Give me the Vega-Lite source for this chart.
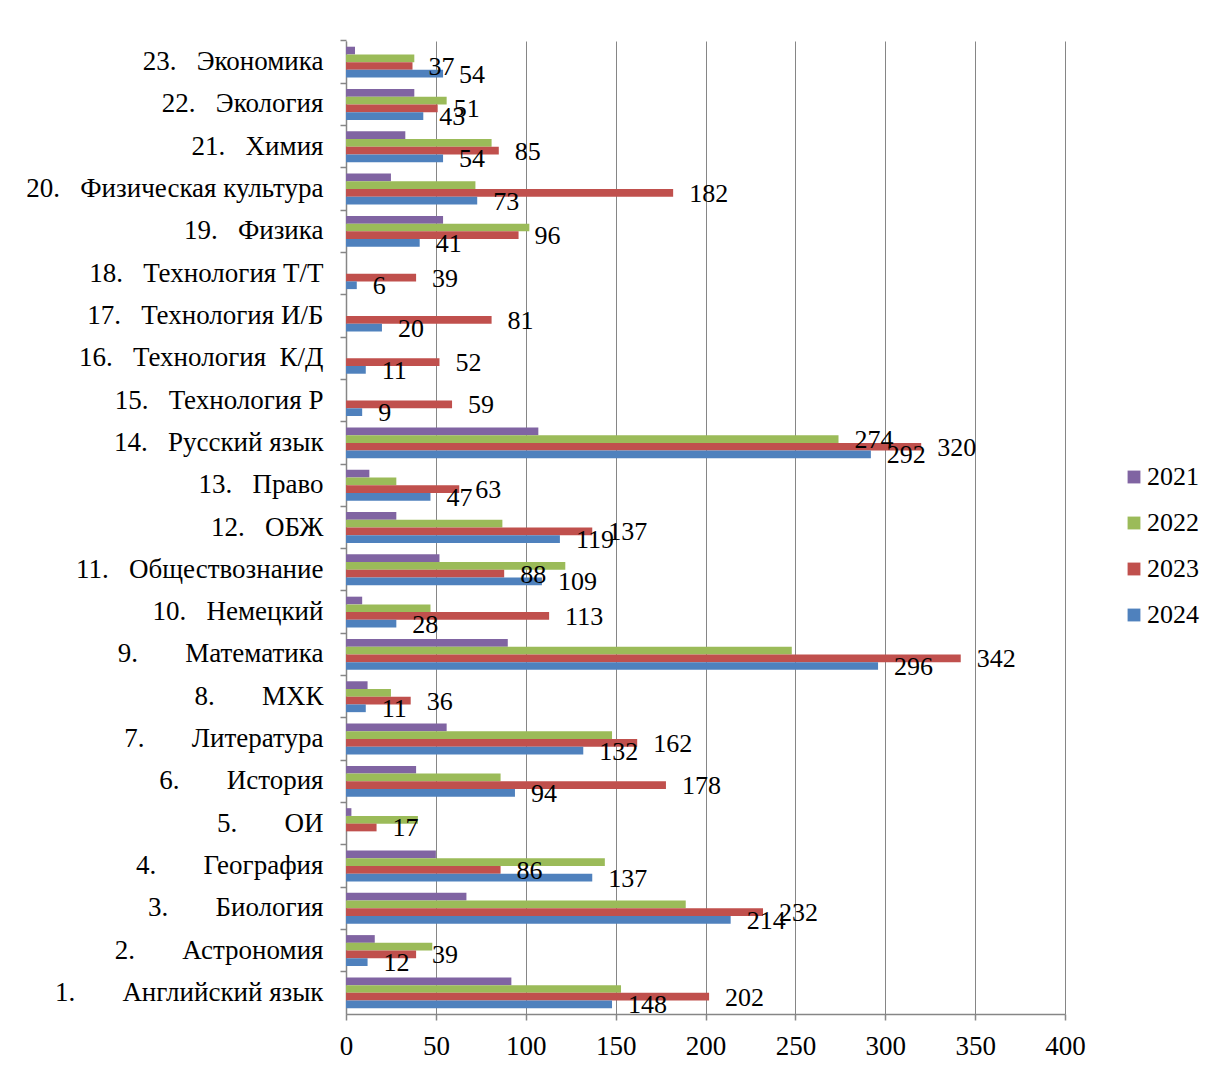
{
  "$schema": "https://vega.github.io/schema/vega-lite/v6.json",
  "width": 719,
  "height": 973,
  "autosize": {"type": "none"},
  "padding": {"left": 346, "top": 41, "right": 148, "bottom": 56},
  "background": "white",
  "config": {"font": "Liberation Serif", "view": {"stroke": null}},
  "data": {"values": [
    {"subject": "23.\u00a0\u00a0\u00a0Экономика", "year": "2021", "value": 5},
    {"subject": "23.\u00a0\u00a0\u00a0Экономика", "year": "2022", "value": 38},
    {"subject": "23.\u00a0\u00a0\u00a0Экономика", "year": "2023", "value": 37},
    {"subject": "23.\u00a0\u00a0\u00a0Экономика", "year": "2024", "value": 54},
    {"subject": "22.\u00a0\u00a0\u00a0Экология", "year": "2021", "value": 38},
    {"subject": "22.\u00a0\u00a0\u00a0Экология", "year": "2022", "value": 56},
    {"subject": "22.\u00a0\u00a0\u00a0Экология", "year": "2023", "value": 51},
    {"subject": "22.\u00a0\u00a0\u00a0Экология", "year": "2024", "value": 43},
    {"subject": "21.\u00a0\u00a0\u00a0Химия", "year": "2021", "value": 33},
    {"subject": "21.\u00a0\u00a0\u00a0Химия", "year": "2022", "value": 81},
    {"subject": "21.\u00a0\u00a0\u00a0Химия", "year": "2023", "value": 85},
    {"subject": "21.\u00a0\u00a0\u00a0Химия", "year": "2024", "value": 54},
    {"subject": "20.\u00a0\u00a0\u00a0Физическая культура", "year": "2021", "value": 25},
    {"subject": "20.\u00a0\u00a0\u00a0Физическая культура", "year": "2022", "value": 72},
    {"subject": "20.\u00a0\u00a0\u00a0Физическая культура", "year": "2023", "value": 182},
    {"subject": "20.\u00a0\u00a0\u00a0Физическая культура", "year": "2024", "value": 73},
    {"subject": "19.\u00a0\u00a0\u00a0Физика", "year": "2021", "value": 54},
    {"subject": "19.\u00a0\u00a0\u00a0Физика", "year": "2022", "value": 102},
    {"subject": "19.\u00a0\u00a0\u00a0Физика", "year": "2023", "value": 96},
    {"subject": "19.\u00a0\u00a0\u00a0Физика", "year": "2024", "value": 41},
    {"subject": "18.\u00a0\u00a0\u00a0Технология Т/Т", "year": "2023", "value": 39},
    {"subject": "18.\u00a0\u00a0\u00a0Технология Т/Т", "year": "2024", "value": 6},
    {"subject": "17.\u00a0\u00a0\u00a0Технология И/Б", "year": "2023", "value": 81},
    {"subject": "17.\u00a0\u00a0\u00a0Технология И/Б", "year": "2024", "value": 20},
    {"subject": "16.\u00a0\u00a0\u00a0Технология\u00a0\u00a0К/Д", "year": "2023", "value": 52},
    {"subject": "16.\u00a0\u00a0\u00a0Технология\u00a0\u00a0К/Д", "year": "2024", "value": 11},
    {"subject": "15.\u00a0\u00a0\u00a0Технология Р", "year": "2023", "value": 59},
    {"subject": "15.\u00a0\u00a0\u00a0Технология Р", "year": "2024", "value": 9},
    {"subject": "14.\u00a0\u00a0\u00a0Русский язык", "year": "2021", "value": 107},
    {"subject": "14.\u00a0\u00a0\u00a0Русский язык", "year": "2022", "value": 274},
    {"subject": "14.\u00a0\u00a0\u00a0Русский язык", "year": "2023", "value": 320},
    {"subject": "14.\u00a0\u00a0\u00a0Русский язык", "year": "2024", "value": 292},
    {"subject": "13.\u00a0\u00a0\u00a0Право", "year": "2021", "value": 13},
    {"subject": "13.\u00a0\u00a0\u00a0Право", "year": "2022", "value": 28},
    {"subject": "13.\u00a0\u00a0\u00a0Право", "year": "2023", "value": 63},
    {"subject": "13.\u00a0\u00a0\u00a0Право", "year": "2024", "value": 47},
    {"subject": "12.\u00a0\u00a0\u00a0ОБЖ", "year": "2021", "value": 28},
    {"subject": "12.\u00a0\u00a0\u00a0ОБЖ", "year": "2022", "value": 87},
    {"subject": "12.\u00a0\u00a0\u00a0ОБЖ", "year": "2023", "value": 137},
    {"subject": "12.\u00a0\u00a0\u00a0ОБЖ", "year": "2024", "value": 119},
    {"subject": "11.\u00a0\u00a0\u00a0Обществознание", "year": "2021", "value": 52},
    {"subject": "11.\u00a0\u00a0\u00a0Обществознание", "year": "2022", "value": 122},
    {"subject": "11.\u00a0\u00a0\u00a0Обществознание", "year": "2023", "value": 88},
    {"subject": "11.\u00a0\u00a0\u00a0Обществознание", "year": "2024", "value": 109},
    {"subject": "10.\u00a0\u00a0\u00a0Немецкий", "year": "2021", "value": 9},
    {"subject": "10.\u00a0\u00a0\u00a0Немецкий", "year": "2022", "value": 47},
    {"subject": "10.\u00a0\u00a0\u00a0Немецкий", "year": "2023", "value": 113},
    {"subject": "10.\u00a0\u00a0\u00a0Немецкий", "year": "2024", "value": 28},
    {"subject": "9.\u00a0\u00a0\u00a0\u00a0\u00a0\u00a0\u00a0Математика", "year": "2021", "value": 90},
    {"subject": "9.\u00a0\u00a0\u00a0\u00a0\u00a0\u00a0\u00a0Математика", "year": "2022", "value": 248},
    {"subject": "9.\u00a0\u00a0\u00a0\u00a0\u00a0\u00a0\u00a0Математика", "year": "2023", "value": 342},
    {"subject": "9.\u00a0\u00a0\u00a0\u00a0\u00a0\u00a0\u00a0Математика", "year": "2024", "value": 296},
    {"subject": "8.\u00a0\u00a0\u00a0\u00a0\u00a0\u00a0\u00a0МХК", "year": "2021", "value": 12},
    {"subject": "8.\u00a0\u00a0\u00a0\u00a0\u00a0\u00a0\u00a0МХК", "year": "2022", "value": 25},
    {"subject": "8.\u00a0\u00a0\u00a0\u00a0\u00a0\u00a0\u00a0МХК", "year": "2023", "value": 36},
    {"subject": "8.\u00a0\u00a0\u00a0\u00a0\u00a0\u00a0\u00a0МХК", "year": "2024", "value": 11},
    {"subject": "7.\u00a0\u00a0\u00a0\u00a0\u00a0\u00a0\u00a0Литература", "year": "2021", "value": 56},
    {"subject": "7.\u00a0\u00a0\u00a0\u00a0\u00a0\u00a0\u00a0Литература", "year": "2022", "value": 148},
    {"subject": "7.\u00a0\u00a0\u00a0\u00a0\u00a0\u00a0\u00a0Литература", "year": "2023", "value": 162},
    {"subject": "7.\u00a0\u00a0\u00a0\u00a0\u00a0\u00a0\u00a0Литература", "year": "2024", "value": 132},
    {"subject": "6.\u00a0\u00a0\u00a0\u00a0\u00a0\u00a0\u00a0История", "year": "2021", "value": 39},
    {"subject": "6.\u00a0\u00a0\u00a0\u00a0\u00a0\u00a0\u00a0История", "year": "2022", "value": 86},
    {"subject": "6.\u00a0\u00a0\u00a0\u00a0\u00a0\u00a0\u00a0История", "year": "2023", "value": 178},
    {"subject": "6.\u00a0\u00a0\u00a0\u00a0\u00a0\u00a0\u00a0История", "year": "2024", "value": 94},
    {"subject": "5.\u00a0\u00a0\u00a0\u00a0\u00a0\u00a0\u00a0ОИ", "year": "2021", "value": 3},
    {"subject": "5.\u00a0\u00a0\u00a0\u00a0\u00a0\u00a0\u00a0ОИ", "year": "2022", "value": 40},
    {"subject": "5.\u00a0\u00a0\u00a0\u00a0\u00a0\u00a0\u00a0ОИ", "year": "2023", "value": 17},
    {"subject": "4.\u00a0\u00a0\u00a0\u00a0\u00a0\u00a0\u00a0География", "year": "2021", "value": 50},
    {"subject": "4.\u00a0\u00a0\u00a0\u00a0\u00a0\u00a0\u00a0География", "year": "2022", "value": 144},
    {"subject": "4.\u00a0\u00a0\u00a0\u00a0\u00a0\u00a0\u00a0География", "year": "2023", "value": 86},
    {"subject": "4.\u00a0\u00a0\u00a0\u00a0\u00a0\u00a0\u00a0География", "year": "2024", "value": 137},
    {"subject": "3.\u00a0\u00a0\u00a0\u00a0\u00a0\u00a0\u00a0Биология", "year": "2021", "value": 67},
    {"subject": "3.\u00a0\u00a0\u00a0\u00a0\u00a0\u00a0\u00a0Биология", "year": "2022", "value": 189},
    {"subject": "3.\u00a0\u00a0\u00a0\u00a0\u00a0\u00a0\u00a0Биология", "year": "2023", "value": 232},
    {"subject": "3.\u00a0\u00a0\u00a0\u00a0\u00a0\u00a0\u00a0Биология", "year": "2024", "value": 214},
    {"subject": "2.\u00a0\u00a0\u00a0\u00a0\u00a0\u00a0\u00a0Астрономия", "year": "2021", "value": 16},
    {"subject": "2.\u00a0\u00a0\u00a0\u00a0\u00a0\u00a0\u00a0Астрономия", "year": "2022", "value": 48},
    {"subject": "2.\u00a0\u00a0\u00a0\u00a0\u00a0\u00a0\u00a0Астрономия", "year": "2023", "value": 39},
    {"subject": "2.\u00a0\u00a0\u00a0\u00a0\u00a0\u00a0\u00a0Астрономия", "year": "2024", "value": 12},
    {"subject": "1.\u00a0\u00a0\u00a0\u00a0\u00a0\u00a0\u00a0Английский язык", "year": "2021", "value": 92},
    {"subject": "1.\u00a0\u00a0\u00a0\u00a0\u00a0\u00a0\u00a0Английский язык", "year": "2022", "value": 153},
    {"subject": "1.\u00a0\u00a0\u00a0\u00a0\u00a0\u00a0\u00a0Английский язык", "year": "2023", "value": 202},
    {"subject": "1.\u00a0\u00a0\u00a0\u00a0\u00a0\u00a0\u00a0Английский язык", "year": "2024", "value": 148}
  ]},
  "encoding": {
    "x": {
      "field": "value", "type": "quantitative",
      "scale": {"domain": [0, 400], "nice": false, "zero": true},
      "axis": {
        "orient": "bottom", "values": [0, 50, 100, 150, 200, 250, 300, 350, 400],
        "grid": true, "gridColor": "#868686", "gridWidth": 1,
        "domainColor": "#868686", "domainWidth": 1.5,
        "tickColor": "#868686", "tickSize": 6, "tickWidth": 1.5,
        "labelFontSize": 27, "labelColor": "black", "labelFont": "Liberation Serif",
        "labelPadding": 13, "labelFlush": false, "labelOverlap": false, "title": null
      }
    },
    "yOffset": {
      "field": "year", "type": "nominal",
      "sort": ["2021", "2022", "2023", "2024"],
      "scale": {"domain": ["2021", "2022", "2023", "2024"], "paddingInner": 0, "paddingOuter": 0}
    },
    "y": {
      "field": "subject", "type": "nominal",
      "sort": [
        "23.\u00a0\u00a0\u00a0Экономика",
        "22.\u00a0\u00a0\u00a0Экология",
        "21.\u00a0\u00a0\u00a0Химия",
        "20.\u00a0\u00a0\u00a0Физическая культура",
        "19.\u00a0\u00a0\u00a0Физика",
        "18.\u00a0\u00a0\u00a0Технология Т/Т",
        "17.\u00a0\u00a0\u00a0Технология И/Б",
        "16.\u00a0\u00a0\u00a0Технология\u00a0\u00a0К/Д",
        "15.\u00a0\u00a0\u00a0Технология Р",
        "14.\u00a0\u00a0\u00a0Русский язык",
        "13.\u00a0\u00a0\u00a0Право",
        "12.\u00a0\u00a0\u00a0ОБЖ",
        "11.\u00a0\u00a0\u00a0Обществознание",
        "10.\u00a0\u00a0\u00a0Немецкий",
        "9.\u00a0\u00a0\u00a0\u00a0\u00a0\u00a0\u00a0Математика",
        "8.\u00a0\u00a0\u00a0\u00a0\u00a0\u00a0\u00a0МХК",
        "7.\u00a0\u00a0\u00a0\u00a0\u00a0\u00a0\u00a0Литература",
        "6.\u00a0\u00a0\u00a0\u00a0\u00a0\u00a0\u00a0История",
        "5.\u00a0\u00a0\u00a0\u00a0\u00a0\u00a0\u00a0ОИ",
        "4.\u00a0\u00a0\u00a0\u00a0\u00a0\u00a0\u00a0География",
        "3.\u00a0\u00a0\u00a0\u00a0\u00a0\u00a0\u00a0Биология",
        "2.\u00a0\u00a0\u00a0\u00a0\u00a0\u00a0\u00a0Астрономия",
        "1.\u00a0\u00a0\u00a0\u00a0\u00a0\u00a0\u00a0Английский язык"
      ],
      "scale": {"paddingInner": 0.27, "paddingOuter": 0.135}
    }
  },
  "layer": [
    {
      "mark": {"type": "bar"},
      "encoding": {
        "y": {
          "field": "subject", "type": "nominal",
          "axis": {
            "orient": "left", "ticks": false, "domain": true,
            "domainColor": "#868686", "domainWidth": 1.5,
            "labelFontSize": 27, "labelColor": "black", "labelFont": "Liberation Serif",
            "labelPadding": 23, "labelLimit": 400, "title": null, "grid": false
          }
        },
        "color": {
          "field": "year", "type": "nominal",
          "scale": {"domain": ["2021", "2022", "2023", "2024"], "range": ["#8064A2", "#9BBB59", "#C0504D", "#4F81BD"]},
          "legend": {
            "orient": "none", "legendX": 775, "legendY": 423, "title": null,
            "symbolType": "square", "symbolSize": 165, "symbolOpacity": 1, "symbolStrokeWidth": 0,
            "labelFontSize": 26, "labelFont": "Liberation Serif", "labelColor": "black",
            "labelOffset": 0, "rowPadding": 20
          }
        }
      }
    },
    {
      "transform": [{"filter": "datum.year == '2023' || datum.year == '2024' || datum.value == 274"}],
      "mark": {"type": "text", "align": "left", "baseline": "middle", "dx": 16, "dy": 1, "fontSize": 26, "font": "Liberation Serif", "color": "black"},
      "encoding": {
        "y": {
          "field": "subject", "type": "nominal",
          "axis": {
            "orient": "left", "labels": false, "ticks": true, "tickSize": 6, "tickWidth": 1.5,
            "tickColor": "#868686", "bandPosition": -0.185, "domain": false, "grid": false, "title": null
          }
        },
        "text": {"field": "value", "type": "quantitative"}
      }
    }
  ],
  "resolve": {"axis": {"y": "independent"}}
}
